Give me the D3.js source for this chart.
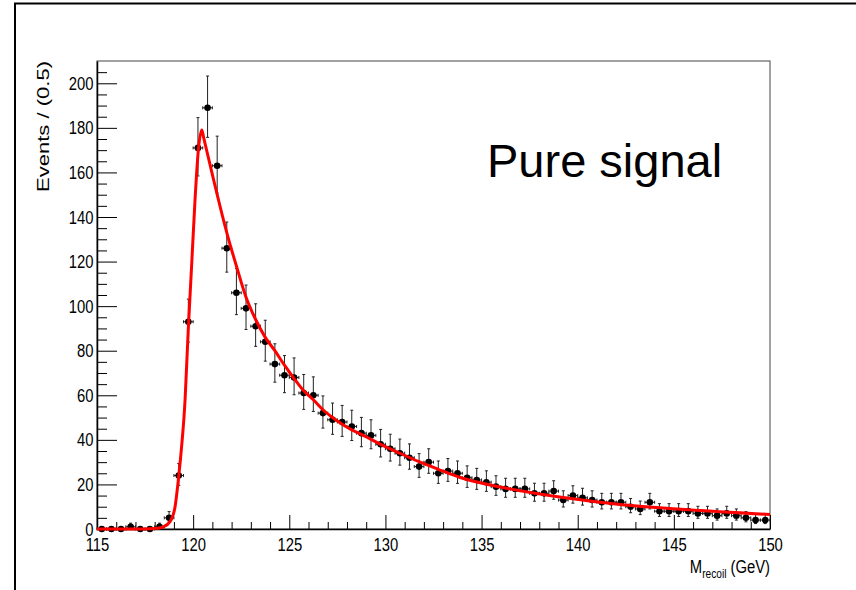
<!DOCTYPE html>
<html>
<head>
<meta charset="utf-8">
<script src="https://cdn.jsdelivr.net/npm/d3@7"></script>
<style>
  body { margin: 0; background: #fff; }
  .axis text { font-family: "Liberation Sans", Arial, sans-serif; font-size: 19px; fill: #000; }
  .axis line, .axis path { stroke: #000; }
</style>
</head>
<body>
<script>
// bin centres (bin width 0.5 GeV) and event counts
var binCenters = [
  115.25, 115.75, 116.25, 116.75, 117.25, 117.75, 118.25, 118.75, 119.25, 119.75,
  120.25, 120.75, 121.25, 121.75, 122.25, 122.75, 123.25, 123.75, 124.25, 124.75,
  125.25, 125.75, 126.25, 126.75, 127.25, 127.75, 128.25, 128.75, 129.25, 129.75,
  130.25, 130.75, 131.25, 131.75, 132.25, 132.75, 133.25, 133.75, 134.25, 134.75,
  135.25, 135.75, 136.25, 136.75, 137.25, 137.75, 138.25, 138.75, 139.25, 139.75,
  140.25, 140.75, 141.25, 141.75, 142.25, 142.75, 143.25, 143.75, 144.25, 144.75,
  145.25, 145.75, 146.25, 146.75, 147.25, 147.75, 148.25, 148.75, 149.25, 149.75
];
var counts = [
  0, 0, 0, 1, 0, 0, 1, 5, 24, 93,
  171, 189, 163, 126, 106, 99, 91, 84, 74, 69,
  68, 61, 60, 52, 49, 48, 46, 43, 42, 38,
  36, 34, 32, 28, 30, 25, 26, 25, 23, 22,
  21, 19, 18, 18, 18, 16, 16, 17, 13, 15,
  14, 13, 12, 12, 12, 10, 9, 12, 8, 8,
  8, 8, 7, 7, 6, 7, 6, 5, 4, 4
];

// fitted curve, sampled by eye
var fitX = [115, 117.5, 118, 118.45, 118.8, 119.06, 119.23, 119.4, 119.58, 119.66,
  119.75, 119.92, 120.1, 120.27, 120.45, 120.55, 121.0, 121.78,
  122.25, 122.75, 123.25, 123.75, 124.25, 124.75, 125.25, 125.75, 126.25, 126.75,
  127.25, 127.75, 128.25, 128.75, 129.25, 129.75, 130.75, 131.75, 132.75, 133.85,
  136.3, 139.25, 142.2, 145.15, 150];
var fitY = [0, 0, 0.2, 1, 3.3, 10, 22, 37, 58, 73,
  90, 118, 148, 170, 179, 175.5, 159, 132,
  118, 104, 94, 86, 80, 73.5, 67.5, 62, 58, 53.5,
  50, 47, 44.5, 42.5, 40.2, 38, 34, 30.2, 26.8, 23.2,
  18.3, 14.1, 11.0, 9.0, 6.5];

var xTickValues = [115, 120, 125, 130, 135, 140, 145, 150];
var yTickValues = [0, 20, 40, 60, 80, 100, 120, 140, 160, 180, 200];

var w = 856;
var h = 590;
var margin = { top: 61, left: 97, right: 86, bottom: 61 };
var width = w - margin.left - margin.right;
var height = h - margin.top - margin.bottom;
var narrow = "scale(0.78,1)";

var svg = d3.select("body").append("svg")
  .attr("width", w)
  .attr("height", h);

svg.append("rect").attr("width", w).attr("height", h).attr("fill", "#fff");

// canvas border (top and left edge visible)
svg.append("path")
  .attr("d", "M15," + (h + 5) + "V3.5H" + (w + 5))
  .attr("fill", "none")
  .attr("stroke", "#000")
  .attr("stroke-width", 2);

var chart = svg.append("g")
  .attr("transform", "translate(" + margin.left + "," + margin.top + ")");

var x = d3.scaleLinear().domain([115, 150]).range([0, width]);
var y = d3.scaleLinear().domain([0, 210]).range([height, 0]);

// frame
chart.append("rect")
  .attr("width", width)
  .attr("height", height)
  .attr("fill", "none")
  .attr("stroke", "#444")
  .attr("stroke-width", 1);

// minor ticks
var xMinor = d3.range(116, 150, 1).filter(function(v){ return v % 5 !== 0; });
var yMinor = d3.range(5, 210, 5).filter(function(v){ return v % 20 !== 0; });

chart.append("g")
  .attr("class", "axis")
  .attr("transform", "translate(0," + height + ")")
  .call(d3.axisBottom(x).tickValues(xMinor).tickSize(-7).tickSizeOuter(0).tickFormat(""))
  .select(".domain").remove();

chart.append("g")
  .attr("class", "axis")
  .call(d3.axisLeft(y).tickValues(yMinor).tickSize(-10).tickSizeOuter(0).tickFormat(""))
  .select(".domain").remove();

// major ticks + labels
var xAxisG = chart.append("g")
  .attr("class", "axis")
  .attr("transform", "translate(0," + height + ")")
  .call(d3.axisBottom(x).tickValues(xTickValues).tickSize(-14).tickSizeOuter(0).tickPadding(9).tickFormat(d3.format("d")));
xAxisG.select(".domain").attr("stroke-width", 1.5);
xAxisG.selectAll(".tick text").attr("transform", narrow);

var yAxisG = chart.append("g")
  .attr("class", "axis")
  .call(d3.axisLeft(y).tickValues(yTickValues).tickSize(-20).tickSizeOuter(0).tickPadding(4.5).tickFormat(d3.format("d")));
yAxisG.select(".domain").attr("stroke-width", 1.5);
yAxisG.selectAll(".tick text").attr("transform", narrow);

// data points with Poisson-style error bars
var pts = binCenters.map(function(c, i){
  var n = counts[i];
  var s = Math.sqrt(n + 0.25);
  return { x: c, n: n, lo: Math.max(0, n + 0.5 - s), hi: n + 0.5 + s };
});

var bars = chart.append("g")
  .attr("stroke", "#222")
  .attr("stroke-width", 1)
  .attr("fill", "none");

pts.forEach(function(d){
  var cx = x(d.x), cy = y(d.n);
  var path = "";
  if (d.n > 0) {
    path += "M" + cx + "," + y(d.hi) + "V" + y(d.lo);
    path += "M" + (cx - 1.5) + "," + y(d.hi) + "h3";
    path += "M" + (cx - 1.5) + "," + y(d.lo) + "h3";
  }
  path += "M" + x(d.x - 0.25) + "," + cy + "H" + x(d.x + 0.25);
  path += "M" + x(d.x - 0.25) + "," + (cy - 1.5) + "v3";
  path += "M" + x(d.x + 0.25) + "," + (cy - 1.5) + "v3";
  bars.append("path").attr("d", path);
});

chart.selectAll(".point")
  .data(pts)
  .enter()
  .append("circle")
  .attr("class", "point")
  .attr("cx", function(d){ return x(d.x); })
  .attr("cy", function(d){ return y(d.n); })
  .attr("r", 3.3)
  .attr("fill", "#000");

// fit curve
var fit = fitX.map(function(v, i){ return { x: v, y: fitY[i] }; });
var line = d3.line()
  .x(function(d){ return x(d.x); })
  .y(function(d){ return y(d.y); })
  .curve(d3.curveMonotoneX);

chart.append("path")
  .datum(fit)
  .attr("d", line)
  .attr("fill", "none")
  .attr("stroke", "#ff0000")
  .attr("stroke-width", 3);

// titles
svg.append("text")
  .attr("transform", "translate(48.5," + margin.top + ") rotate(-90)")
  .attr("text-anchor", "end")
  .attr("font-family", "Liberation Sans, Arial, sans-serif")
  .attr("font-size", 17)
  .attr("textLength", 131)
  .attr("lengthAdjust", "spacingAndGlyphs")
  .text("Events / (0.5)");

var xt = svg.append("text")
  .attr("transform", "translate(" + (margin.left + width) + ",573) " + narrow)
  .attr("text-anchor", "end")
  .attr("font-family", "Liberation Sans, Arial, sans-serif")
  .attr("font-size", 19);
xt.append("tspan").text("M");
xt.append("tspan").attr("font-size", 13).attr("dy", 5).text("recoil");
xt.append("tspan").attr("dy", -5).text(" (GeV)");

svg.append("text")
  .attr("x", 487)
  .attr("y", 177)
  .attr("font-family", "Liberation Sans, Arial, sans-serif")
  .attr("font-size", 47)
  .text("Pure signal");
</script>
</body>
</html>
